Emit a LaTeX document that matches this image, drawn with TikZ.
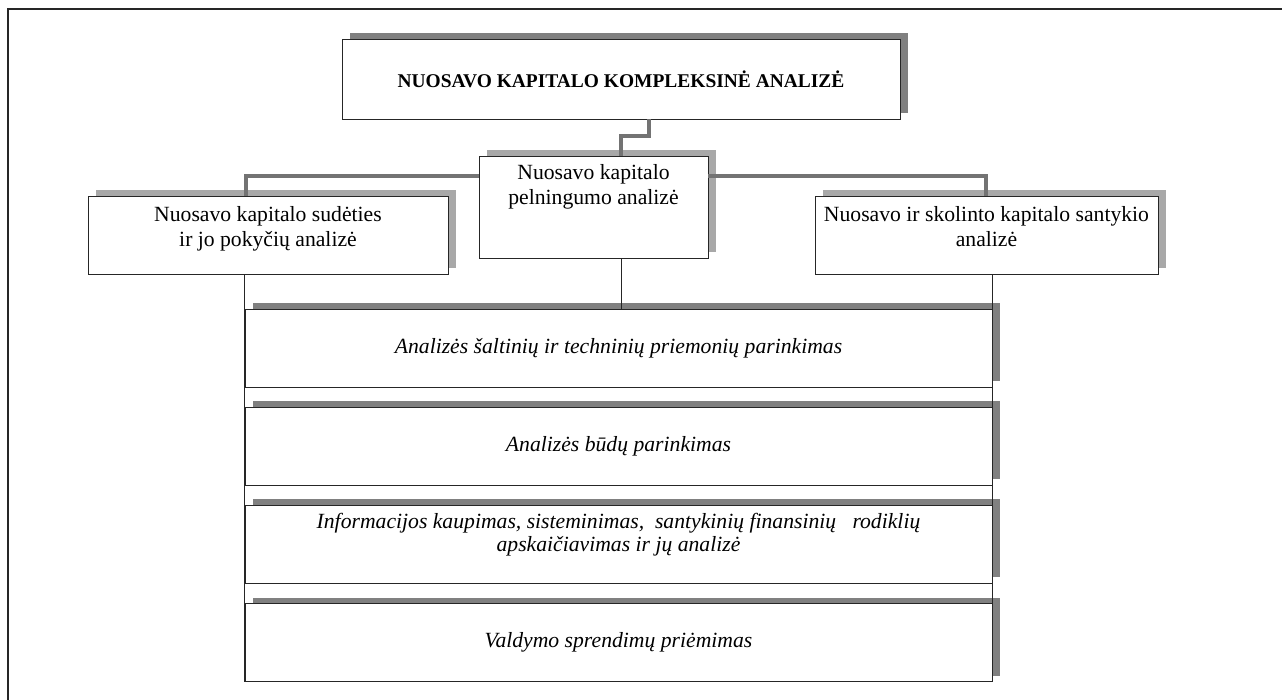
\documentclass[tikz,border=0pt]{standalone}
\usepackage{fontspec}
\setmainfont{Liberation Serif}
\usetikzlibrary{shadows}

\definecolor{shadowdark}{gray}{0.5}
\definecolor{shadowlight}{gray}{0.66}

\begin{document}
\begin{tikzpicture}[x=0.03cm, y=-0.03cm,
    box/.style={draw=black!85, line width=0.8pt, fill=white, align=center,
      inner sep=0pt, font=\fontsize{18.5}{21.5}\selectfont},
    stagebox/.style={minimum width=22.41cm, minimum height=2.34cm,
      font=\fontsize{18.5}{20}\selectfont\itshape},
    darkshadow/.style={drop shadow={shadow xshift=0.25cm, shadow yshift=0.18cm,
      fill=shadowdark, opacity=1}},
    lightshadow/.style={drop shadow={shadow xshift=0.25cm, shadow yshift=0.18cm,
      fill=shadowlight, opacity=1}},
    conn/.style={draw=black!65, line width=0.5pt, double=black!55, double distance=2.8pt},
    thinline/.style={draw=black!85, line width=0.8pt}]
    \useasboundingbox (0,0) rectangle (1282,700);
    \clip (0,0) rectangle (1282,700);
    \draw[line width=1.4pt, black!85] (8,9) rectangle (1300,720);

    % upper level
    \node[box, darkshadow, minimum width=16.74cm, minimum height=2.4cm,
      font=\fontsize{16.6}{20}\selectfont\bfseries] (main) at (621,79)
      {NUOSAVO KAPITALO KOMPLEKSINĖ ANALIZĖ};
    \node[box, lightshadow, minimum width=6.87cm, minimum height=3.06cm] (prof) at (593.5,207)
      {Nuosavo kapitalo\\pelningumo analizė\\\mbox{}\\[-5pt]\mbox{}};
    \node[box, lightshadow, minimum width=10.8cm, minimum height=2.34cm] (comp) at (268,235)
      {Nuosavo kapitalo sudėties\\ir jo pokyčių analizė\\[-7pt]\mbox{}};
    \node[box, lightshadow, minimum width=10.29cm, minimum height=2.34cm] (ratio) at (986.5,235)
      {Nuosavo ir skolinto kapitalo santykio\\analizė\\[-7pt]\mbox{}};

    % stages
    \foreach \i/\y/\txt in {1/348/{Analizės šaltinių ir techninių priemonių parinkimas},
        2/446/{Analizės būdų parinkimas},
        3/544/{Informacijos kaupimas, sisteminimas,\ \ santykinių finansinių\ \ \ rodiklių\\apskaičiavimas ir jų analizė\\\mbox{}},
        4/642.5/{Valdymo sprendimų priėmimas}}
      \node[box, stagebox, darkshadow] (s\i) at (618.5,\y) {\txt};

    % connectors
    \coordinate (bend) at (621,136);
    \coordinate (jl) at (246,176);
    \coordinate (jr) at (986,176);
    \draw[conn] (main.south -| 649,0) |- (bend) -- (prof.north -| bend);
    \draw[conn] (prof.west |- jl) -- (jl) -- (comp.north -| jl);
    \draw[conn] (prof.east |- jr) -- (jr) -- (ratio.north -| jr);
    \draw[thinline] (prof.south -| bend) -- (s1.north -| bend);
    \draw[thinline] (comp.south -| s1.west) -- (s4.south west);
    \draw[thinline] (ratio.south -| s1.east) -- (s4.south east);
\end{tikzpicture}
\end{document}
